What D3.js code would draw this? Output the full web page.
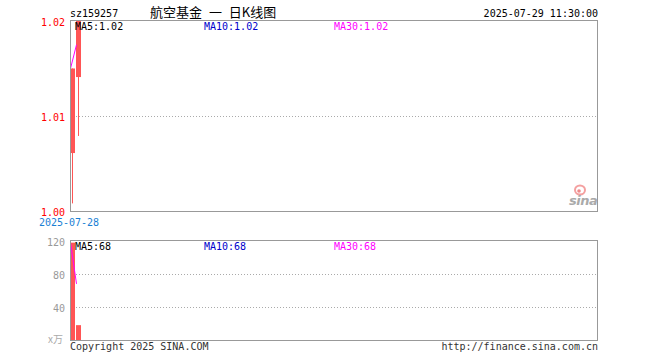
<!DOCTYPE html>
<html><head><meta charset="utf-8">
<script src="https://cdn.jsdelivr.net/npm/d3@7"></script>
<style>
body{margin:0;background:#fff;}
svg{display:block;}
text{font-family:"DejaVu Sans Mono",monospace;font-size:10px;}
</style></head>
<body><svg id="c" width="660" height="360"></svg>
<script>
const symbol = "sz159257";
const title = "航空基金 一 日K线图";
const timestamp = "2025-07-29 11:30:00";
const dates = ["2025-07-28", "2025-07-29"];
const openP  = [1.0061, 1.0141];
const highP  = [1.0150, 1.0200];
const lowP   = [1.0008, 1.0079];
const closeP = [1.0150, 1.0200];
const volume = [118, 18];
const priceTicks = [1.00, 1.01, 1.02];
const volTicks = [40, 80, 120];
const priceLegend = ["MA5:1.02", "MA10:1.02", "MA30:1.02"];
const volLegend = ["MA5:68", "MA10:68", "MA30:68"];

function ma(arr, n){ return arr.map((d,i)=>{const s=arr.slice(Math.max(0,i-n+1),i+1);return d3.mean(s);}); }
const ma5P = ma(closeP,5);
const ma5V = ma(volume,5);

const svg = d3.select("#c");
const L=70, R=597, T1=20, B1=211, T2=240, B2=340;
const x = d3.scaleLinear().domain([0,1]).range([L, L+6]);
const y = d3.scaleLinear().domain([1.00,1.02]).range([B1, T1+1]);
const yv = d3.scaleLinear().domain([0,120]).range([B2, T2+1]);
const red="#ff5555", mag="#ff00ff", blue="#0000cc";

// header
svg.append("text").attr("x",L).attr("y",17).attr("fill","#000").text(symbol);
svg.append("text").attr("x",150).attr("y",17).attr("fill","#000")
  .style("font-family","'Noto Sans CJK SC',sans-serif").style("font-size","13px").style("word-spacing","4px").text(title);
svg.append("text").attr("x",R+1).attr("y",17).attr("text-anchor","end").attr("fill","#000").text(timestamp);

// grids
svg.selectAll(".pg").data(priceTicks.filter(t=>t>1.00&&t<1.02)).enter().append("line")
  .attr("x1",L).attr("x2",R).attr("y1",d=>Math.round(y(d))+0.5).attr("y2",d=>Math.round(y(d))+0.5)
  .attr("stroke","#aaa").attr("stroke-dasharray","1,2");
svg.selectAll(".vg").data(volTicks.filter(t=>t<120)).enter().append("line")
  .attr("x1",L).attr("x2",R).attr("y1",d=>Math.round(yv(d))+0.5).attr("y2",d=>Math.round(yv(d))+0.5)
  .attr("stroke","#aaa").attr("stroke-dasharray","1,2");

// axes labels
const ax1 = svg.append("g").attr("transform",`translate(${L-5},1)`)
  .call(d3.axisLeft(y).tickValues(priceTicks).tickSize(0).tickFormat(d3.format(".2f")));
ax1.select(".domain").remove();
ax1.selectAll("text").attr("fill","#ff0000").style("font-family","'DejaVu Sans Mono',monospace").style("font-size","10px").attr("x",0);
const ax2 = svg.append("g").attr("transform",`translate(${L-5},1)`)
  .call(d3.axisLeft(yv).tickValues(volTicks).tickSize(0));
ax2.select(".domain").remove();
ax2.selectAll("text").attr("fill","#999").style("font-family","'DejaVu Sans Mono',monospace").style("font-size","10px").attr("x",0);
svg.append("text").attr("x",L-7).attr("y",343).attr("text-anchor","end").attr("fill","#aaa")
  .style("font-family","'Noto Sans CJK SC',sans-serif").style("font-size","10px").text("x万");

// date label
svg.append("text").attr("x",x(0)-1).attr("y",226).attr("text-anchor","middle").attr("fill","#1a7fd4").text(dates[0]);

// sina logo
const logo = svg.append("g");
logo.append("ellipse").attr("cx",580).attr("cy",190).attr("rx",5).attr("ry",4.5).attr("fill","none").attr("stroke","#f4a0a0").attr("stroke-width",2);
logo.append("circle").attr("cx",579).attr("cy",191).attr("r",1.8).attr("fill","#e88");
logo.append("text").attr("x",569).attr("y",205).attr("fill","#aaa")
  .style("font-family","'DejaVu Sans',sans-serif").style("font-size","13px").style("font-weight","bold").style("font-style","italic").style("letter-spacing","-0.5px").text("sina");

// candles
const c = svg.selectAll(".cd").data(dates.map((d,i)=>i)).enter().append("g");
c.append("line").attr("x1",i=>x(i)+2.5).attr("x2",i=>x(i)+2.5)
  .attr("y1",i=>y(highP[i])).attr("y2",i=>y(lowP[i])).attr("stroke",red);
c.append("rect").attr("x",i=>x(i)).attr("width",5)
  .attr("y",i=>y(Math.max(openP[i],closeP[i]))).attr("height",i=>Math.abs(y(openP[i])-y(closeP[i])))
  .attr("fill",red);
// volume bars
svg.selectAll(".vb").data(volume).enter().append("rect")
  .attr("x",(d,i)=>x(i)).attr("width",5).attr("y",d=>yv(d)).attr("height",d=>B2-yv(d)).attr("fill",red);

// MA lines
svg.append("path").datum(ma5P).attr("fill","none").attr("stroke",mag)
  .attr("d",d3.line().x((d,i)=>x(i)+0.5).y(d=>y(d)));
svg.append("path").datum(ma5V).attr("fill","none").attr("stroke",mag)
  .attr("d",d3.line().x((d,i)=>x(i)+0.5).y(d=>yv(d)));

// frames
svg.append("rect").attr("x",L+0.5).attr("y",T1+0.5).attr("width",R-L).attr("height",B1-T1).attr("fill","none").attr("stroke","#999");
svg.append("rect").attr("x",L+0.5).attr("y",T2+0.5).attr("width",R-L).attr("height",B2-T2).attr("fill","none").attr("stroke","#999");

// legends
const legCols=["#000",blue,mag], legX=[75,204,334];
priceLegend.forEach((t,i)=>svg.append("text").attr("x",legX[i]).attr("y",30).attr("fill",legCols[i]).text(t));
volLegend.forEach((t,i)=>svg.append("text").attr("x",legX[i]).attr("y",250).attr("fill",legCols[i]).text(t));

// footer
svg.append("text").attr("x",L).attr("y",350).attr("fill","#333").text("Copyright 2025 SINA.COM");
svg.append("text").attr("x",R+1).attr("y",350).attr("text-anchor","end").attr("fill","#333").text("http://finance.sina.com.cn");
</script></body></html>
